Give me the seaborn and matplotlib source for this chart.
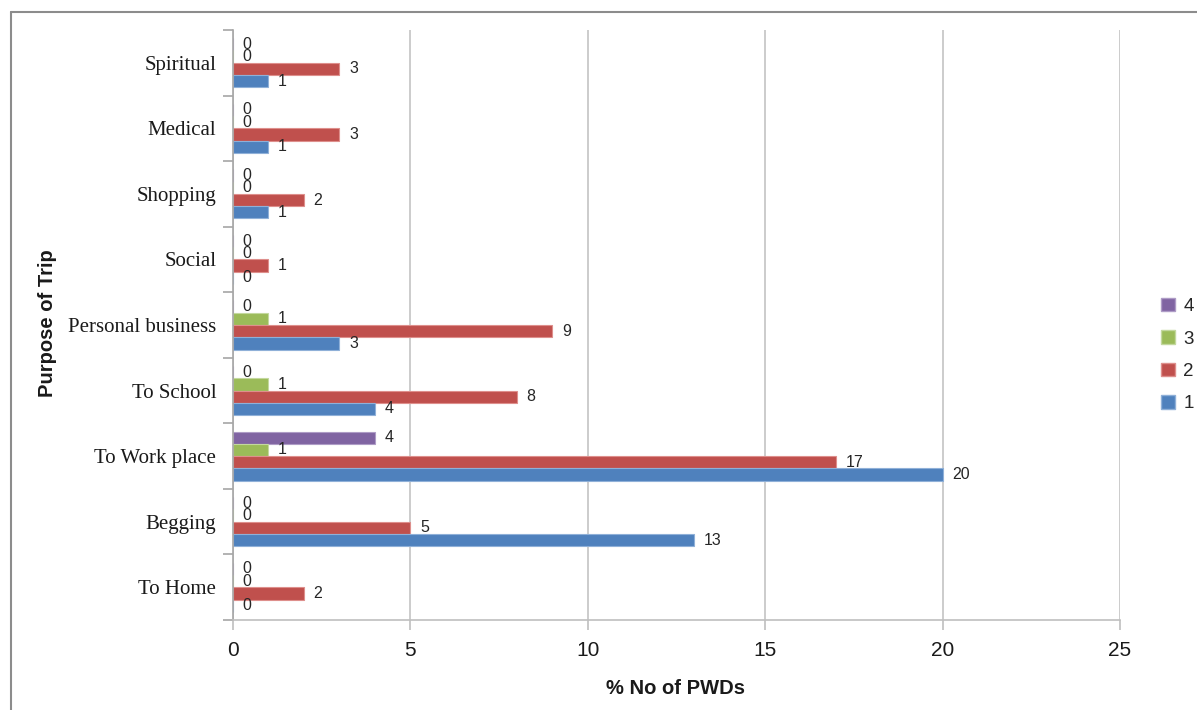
import matplotlib
matplotlib.use("Agg")
import matplotlib.pyplot as plt
from matplotlib.lines import Line2D
import pandas as pd
import seaborn as sns

# Trip purposes (top to bottom) and the four series values
purposes = ["Spiritual", "Medical", "Shopping", "Social", "Personal business",
            "To School", "To Work place", "Begging", "To Home"]
series_1 = [1, 1, 1, 0, 3, 4, 20, 13, 0]
series_2 = [3, 3, 2, 1, 9, 8, 17, 5, 2]
series_3 = [0, 0, 0, 0, 1, 1, 1, 0, 0]
series_4 = [0, 0, 0, 0, 0, 0, 4, 0, 0]
series_names = ["4", "3", "2", "1"]
x_ticks = [0, 5, 10, 15, 20, 25]

colors = {"1": "#4F81BD", "2": "#C0504D", "3": "#9BBB59", "4": "#8064A2"}
edges = {"1": "#8FB0D8", "2": "#DE8F8C", "3": "#C3D89E", "4": "#AE9CC6"}

rows = []
for name, vals in zip(["1", "2", "3", "4"], [series_1, series_2, series_3, series_4]):
    for p, v in zip(purposes, vals):
        rows.append({"purpose": p, "series": name, "value": v})
df = pd.DataFrame(rows)

sns.set_theme(style="white")
plt.rcParams["font.family"] = ["Liberation Sans", "DejaVu Sans"]

fig = plt.figure(figsize=(11.97, 7.10), dpi=100)
ax = fig.add_axes([233 / 1197, 1 - 620 / 710, (1120 - 233) / 1197, (620 - 30) / 710])

sns.barplot(data=df, x="value", y="purpose", hue="series", order=purposes,
            hue_order=series_names, palette=colors, orient="h", width=0.75,
            saturation=1, errorbar=None, ax=ax, legend=False, linewidth=0)

for cont, name in zip(ax.containers, series_names):
    for bar in cont:
        bar.set_edgecolor(edges[name])
        bar.set_linewidth(0.8)
    ax.bar_label(cont, labels=[f"{v:g}" for v in cont.datavalues], padding=7,
                 fontsize=11.5, color="#262626")

ax.set_xlim(0, 25)
ax.set_ylim(len(purposes) - 0.5, -0.5)
ax.set_xticks(x_ticks)
ax.set_xticklabels([str(t) for t in x_ticks], fontsize=15, color="#1a1a1a")
ax.tick_params(axis="x", length=7, width=1.2, color="#bfbfbf", pad=8,
               bottom=True, direction="out")

# Category labels at centers, tick marks at the category boundaries
ax.set_yticks(range(len(purposes)))
ax.set_yticklabels(purposes, fontsize=15, family=["Liberation Serif"], color="#1a1a1a")
ax.tick_params(axis="y", which="major", length=0, pad=12, left=True)
ax.set_yticks([i - 0.5 for i in range(len(purposes) + 1)], minor=True)
ax.tick_params(axis="y", which="minor", length=7, width=1.2, color="#a6a6a6",
               left=True, direction="out")

ax.grid(axis="x", color="#c8c8c8", linewidth=1.3)
ax.grid(axis="y", visible=False)
ax.set_axisbelow(True)
for s in ["top", "right"]:
    ax.spines[s].set_visible(False)
ax.spines["left"].set_color("#a6a6a6")
ax.spines["left"].set_linewidth(1.2)
ax.spines["bottom"].set_color("#bfbfbf")
ax.spines["bottom"].set_linewidth(1.2)

ax.set_xlabel("")
ax.set_ylabel("")
fig.text(676 / 1197, 1 - 688 / 710, "% No of PWDs", fontsize=14.5,
         fontweight="bold", ha="center", va="center", color="#1a1a1a")
fig.text(48 / 1197, 1 - 323 / 710, "Purpose of Trip", rotation=90, fontsize=14.5,
         fontweight="bold", ha="center", va="center", color="#1a1a1a")

handles = [plt.Rectangle((0, 0), 1, 1, facecolor=colors[n], edgecolor=edges[n])
           for n in series_names]
ax.legend(handles, series_names, loc="center left", frameon=False,
          bbox_to_anchor=(1161 / 1197, 1 - 355 / 710), bbox_transform=fig.transFigure,
          fontsize=13.5, handlelength=0.75, handleheight=0.75, handletextpad=0.45,
          labelspacing=0.8, borderpad=0, borderaxespad=0)

# Outer chart frame (left and top edges)
fig.add_artist(Line2D([11 / 1197, 11 / 1197], [0, 1 - 12 / 710],
                      transform=fig.transFigure, color="#8c8c8c", linewidth=1.5))
fig.add_artist(Line2D([11 / 1197, 1], [1 - 12 / 710, 1 - 12 / 710],
                      transform=fig.transFigure, color="#8c8c8c", linewidth=1.5))

fig.savefig("out.png", dpi=100, facecolor="white")
